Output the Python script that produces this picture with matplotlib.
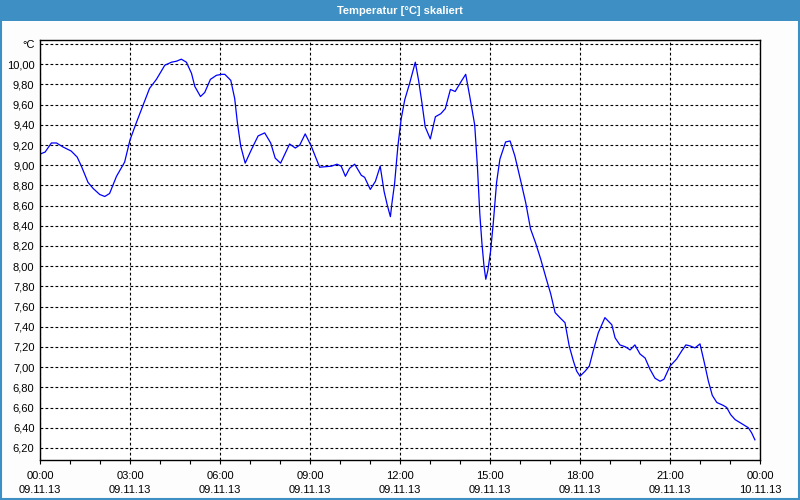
import matplotlib
matplotlib.use("Agg")
import matplotlib.pyplot as plt
from matplotlib.patches import Rectangle
import numpy as np

plt.rcParams['font.family'] = ['Liberation Sans', 'DejaVu Sans']
plt.rcParams['font.size'] = 8

# hours since 09.11.13 00:00
hours = [0.0, 0.17, 0.38, 0.55, 0.77, 1.04, 1.24, 1.38, 1.60, 1.77, 1.99, 2.16, 2.32, 2.55, 2.82,
         3.00, 3.21, 3.43, 3.65, 3.88, 4.16, 4.38, 4.55, 4.71, 4.88, 5.05, 5.16, 5.35, 5.49, 5.68,
         5.88, 6.05, 6.16, 6.36, 6.49, 6.58, 6.69, 6.84, 7.04, 7.27, 7.49, 7.69, 7.84, 8.02, 8.32,
         8.51, 8.66, 8.84, 9.04, 9.32, 9.71, 9.90, 10.04, 10.18, 10.32, 10.49, 10.71, 10.82, 11.01,
         11.18, 11.34, 11.47, 11.58, 11.68, 11.73, 11.82, 11.93, 12.04, 12.16, 12.32, 12.51, 12.62,
         12.73, 12.84, 13.01, 13.18, 13.36, 13.51, 13.68, 13.84, 14.04, 14.19, 14.32, 14.49, 14.58,
         14.66, 14.73, 14.80, 14.86, 14.93, 15.02, 15.11, 15.22, 15.33, 15.52, 15.67, 15.83, 16.02,
         16.19, 16.35, 16.52, 16.69, 16.88, 17.02, 17.17, 17.33, 17.50, 17.64, 17.78, 17.89, 18.00,
         18.17, 18.31, 18.44, 18.61, 18.83, 19.06, 19.17, 19.33, 19.52, 19.67, 19.83, 20.00, 20.17,
         20.33, 20.50, 20.67, 20.80, 21.00, 21.22, 21.39, 21.53, 21.67, 21.83, 22.00, 22.14, 22.28,
         22.41, 22.56, 22.78, 22.89, 23.02, 23.17, 23.39, 23.61, 23.72, 23.83]
temps = [9.11, 9.13, 9.22, 9.22, 9.18, 9.14, 9.08, 8.99, 8.83, 8.77, 8.71, 8.69, 8.72, 8.89, 9.03,
         9.25, 9.42, 9.59, 9.76, 9.85, 9.99, 10.02, 10.03, 10.05, 10.02, 9.91, 9.78, 9.68, 9.72, 9.85,
         9.89, 9.90, 9.90, 9.84, 9.66, 9.42, 9.19, 9.02, 9.15, 9.29, 9.32, 9.22, 9.07, 9.02, 9.21,
         9.17, 9.20, 9.31, 9.19, 8.98, 8.99, 9.01, 8.99, 8.89, 8.97, 9.01, 8.90, 8.88, 8.76,
         8.84, 8.99, 8.74, 8.60, 8.49, 8.62, 8.82, 9.19, 9.46, 9.65, 9.81, 10.02, 9.84,
         9.62, 9.38, 9.26, 9.48, 9.51, 9.56, 9.75, 9.73, 9.83, 9.90, 9.69, 9.40, 8.99,
         8.52, 8.23, 8.00, 7.87, 7.96, 8.15, 8.43, 8.83, 9.06, 9.23, 9.24, 9.09, 8.85,
         8.63, 8.37, 8.23, 8.07, 7.87, 7.73, 7.54, 7.49, 7.44, 7.21, 7.06, 6.96, 6.91,
         6.96, 7.01, 7.16, 7.34, 7.49, 7.42, 7.29, 7.22, 7.20, 7.17, 7.22, 7.13, 7.09,
         6.98, 6.89, 6.86, 6.88, 7.01, 7.08, 7.16, 7.22, 7.21, 7.19, 7.23, 7.05, 6.86,
         6.72, 6.65, 6.62, 6.60, 6.53, 6.48, 6.44, 6.40, 6.35, 6.28]

x_ticks = [0, 3, 6, 9, 12, 15, 18, 21, 24]
x_labels = ['00:00\n09.11.13', '03:00\n09.11.13', '06:00\n09.11.13', '09:00\n09.11.13',
            '12:00\n09.11.13', '15:00\n09.11.13', '18:00\n09.11.13', '21:00\n09.11.13',
            '00:00\n10.11.13']
y_ticks = np.round(np.arange(6.2, 10.21, 0.2), 2)

bar_blue = '#3d8fc4'

fig = plt.figure(figsize=(8, 5), dpi=100, facecolor='#fcfdfc')
ax = fig.add_axes([0.05, 0.08, 0.9, 0.84])
ax.set_facecolor('white')

ax.plot(hours, temps, color='#0000ff', lw=0.9)

ax.set_xlim(0, 24)
ax.set_ylim(6.08, 10.24)

ax.set_xticks(x_ticks)
ax.set_xticklabels(x_labels)
ax.set_xticks(range(25), minor=True)
ax.tick_params(axis='x', which='both', direction='out', length=3, width=0.8, pad=5)
for lbl in ax.get_xticklabels():
    lbl.set_linespacing(1.45)

ylab = ['°C' if abs(v - 10.2) < 1e-6 else ('%.2f' % v).replace('.', ',') for v in y_ticks]
ax.set_yticks(y_ticks)
ax.set_yticklabels(ylab)
ax.tick_params(axis='y', length=0, pad=4)

ax.grid(True, which='major', color='black', linestyle=(0, (2.5, 2)), linewidth=0.8)
for s in ax.spines.values():
    s.set_color('black')
    s.set_linewidth(1)

# title bar and window frame
fig.patches.append(Rectangle((0, 1 - 21 / 500), 1, 21 / 500, transform=fig.transFigure,
                             facecolor=bar_blue, edgecolor='none', zorder=0))
fig.patches.append(Rectangle((0.001, 0.002), 0.998, 0.996, transform=fig.transFigure,
                             facecolor='none', edgecolor=bar_blue, lw=1.5, zorder=5))
fig.text(0.5, 1 - 11 / 500, 'Temperatur [°C] skaliert', color='white', fontweight='bold',
         ha='center', va='center', fontsize=8)

fig.savefig('out.png', dpi=100, facecolor=fig.get_facecolor())
